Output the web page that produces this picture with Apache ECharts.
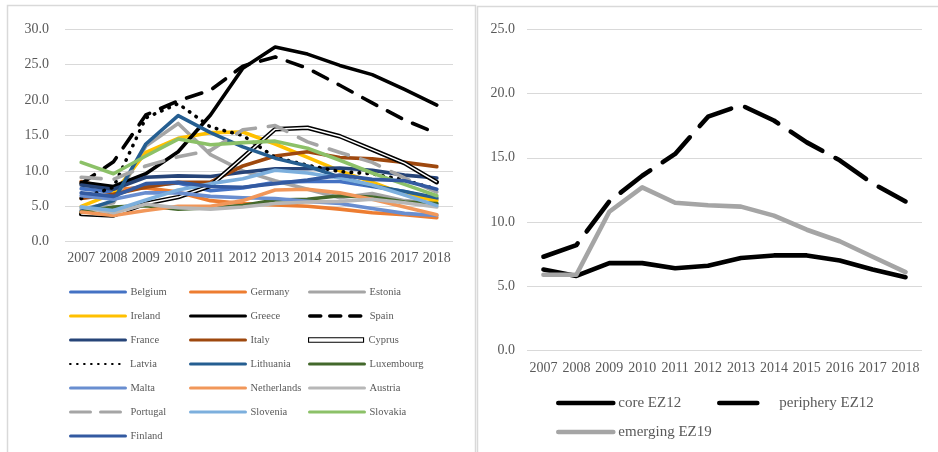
<!DOCTYPE html>
<html><head><meta charset="utf-8">
<script src="https://cdn.jsdelivr.net/npm/echarts@6/dist/echarts.min.js"></script>
<style>html,body{margin:0;padding:0;background:#fff}#c{width:938px;height:452px}</style>
</head><body><div id="c"></div>
<script>
// ---- data ----
const years = ['2007','2008','2009','2010','2011','2012','2013','2014','2015','2016','2017','2018'];
const countries = ['Belgium','Germany','Estonia','Ireland','Greece','Spain','France','Italy','Cyprus','Latvia',
  'Lithuania','Luxembourg','Malta','Netherlands','Austria','Portugal','Slovenia','Slovakia','Finland'];
const belgium     = [7.5, 7.0, 7.9, 8.3, 7.2, 7.6, 8.4, 8.5, 8.5, 7.8, 7.1, 6.0];
const germany     = [8.5, 7.4, 7.6, 7.0, 5.8, 5.4, 5.2, 5.0, 4.6, 4.1, 3.8, 3.4];
const estonia     = [4.6, 5.5, 13.5, 16.7, 12.3, 10.0, 8.6, 7.4, 6.2, 6.8, 5.8, 5.4];
const ireland     = [5.0, 6.8, 12.6, 14.6, 15.4, 15.5, 13.8, 11.9, 10.0, 8.4, 6.7, 5.8];
const greece      = [8.4, 7.8, 9.6, 12.7, 17.9, 24.5, 27.5, 26.5, 24.9, 23.6, 21.5, 19.3];
const spain       = [8.2, 11.3, 17.9, 19.9, 21.4, 24.8, 26.1, 24.5, 22.1, 19.6, 17.2, 15.3];
const france      = [8.0, 7.4, 9.1, 9.3, 9.2, 9.8, 10.3, 10.3, 10.4, 10.1, 9.4, 9.0];
const italy       = [6.1, 6.7, 7.7, 8.4, 8.4, 10.7, 12.1, 12.7, 11.9, 11.7, 11.2, 10.6];
const cyprus      = [3.9, 3.7, 5.4, 6.3, 7.9, 11.9, 15.9, 16.1, 14.9, 13.0, 11.1, 8.4];
const latvia      = [6.1, 7.7, 17.5, 19.5, 16.2, 15.0, 11.9, 10.8, 9.9, 9.6, 8.7, 7.4];
const lithuania   = [4.3, 5.8, 13.8, 17.8, 15.4, 13.4, 11.8, 10.7, 9.1, 7.9, 7.1, 6.2];
const luxembourg  = [4.2, 4.9, 5.1, 4.6, 4.8, 5.1, 5.9, 6.0, 6.5, 6.3, 5.6, 5.4];
const malta       = [6.5, 6.0, 6.9, 6.9, 6.4, 6.2, 6.1, 5.7, 5.4, 4.7, 4.0, 3.7];
const netherlands = [4.2, 3.7, 4.4, 5.0, 5.0, 5.8, 7.3, 7.4, 6.9, 6.0, 4.9, 3.8];
const austria     = [4.9, 4.1, 5.3, 4.8, 4.6, 4.9, 5.4, 5.6, 5.7, 6.0, 5.5, 4.9];
const portugal    = [9.1, 8.8, 10.7, 12.0, 12.9, 15.8, 16.4, 14.1, 12.6, 11.2, 9.0, 7.0];
const slovenia    = [4.9, 4.4, 5.9, 7.3, 8.2, 8.9, 10.1, 9.7, 9.0, 8.0, 6.6, 5.1];
const slovakia    = [11.2, 9.6, 12.1, 14.5, 13.7, 14.0, 14.2, 13.2, 11.5, 9.7, 8.1, 6.5];
const finland     = [6.9, 6.4, 8.2, 8.4, 7.8, 7.7, 8.2, 8.7, 9.4, 8.8, 8.6, 7.4];

const groups = ['core EZ12','periphery EZ12','emerging EZ19'];
const coreEZ12      = [6.3, 5.8, 6.8, 6.8, 6.4, 6.6, 7.2, 7.4, 7.4, 7.0, 6.3, 5.7];
const peripheryEZ12 = [7.3, 8.2, 11.6, 13.6, 15.3, 18.2, 19.1, 17.9, 16.2, 14.8, 13.0, 11.6];
const emergingEZ19  = [5.9, 5.9, 10.8, 12.7, 11.5, 11.3, 11.2, 10.5, 9.4, 8.5, 7.3, 6.1];

const countryValues = [belgium, germany, estonia, ireland, greece, spain, france, italy, cyprus, latvia,
  lithuania, luxembourg, malta, netherlands, austria, portugal, slovenia, slovakia, finland];
const groupValues = [coreEZ12, peripheryEZ12, emergingEZ19];

// ---- styles ----
const FONT = 'Liberation Serif';
const TXT = '#595959';
const GRIDC = '#D9D9D9';
const cStyle = {
  Belgium:{color:'#4472C4'}, Germany:{color:'#ED7D31'}, Estonia:{color:'#A5A5A5'}, Ireland:{color:'#FFC000'},
  Greece:{color:'#000000'}, Spain:{color:'#000000', type:[16,12]}, France:{color:'#264478'}, Italy:{color:'#9E480E'},
  Cyprus:{color:'#000000'}, Latvia:{color:'#000000', type:[0.5,7.5]}, Lithuania:{color:'#255E91'},
  Luxembourg:{color:'#43682B'}, Malta:{color:'#698ED0'}, Netherlands:{color:'#F1975A'}, Austria:{color:'#B7B7B7'},
  Portugal:{color:'#A5A5A5', type:[20,13]}, Slovenia:{color:'#7CAFDD'}, Slovakia:{color:'#8CC168'}, Finland:{color:'#335AA1'}
};
const gStyle = {
  'core EZ12':{color:'#000000'}, 'periphery EZ12':{color:'#000000', type:[37,15]}, 'emerging EZ19':{color:'#A5A5A5'}
};

const series = [];
countries.forEach((name, i) => {
  const st = cStyle[name];
  series.push({
    type:'line', name, xAxisIndex:0, yAxisIndex:0, data: countryValues[i], symbol:'none', smooth:false,
    lineStyle:{color: st.color, width: name==='Cyprus'?4.5:3.6, type: st.type || 'solid', cap:'round', join:'round'},
    itemStyle:{color: st.color}, emphasis:{disabled:true}, animation:false
  });
  if (name === 'Cyprus') {
    series.push({
      type:'line', name:'Cyprus inner', xAxisIndex:0, yAxisIndex:0, data: countryValues[i], symbol:'none',
      lineStyle:{color:'#ffffff', width:1.5}, emphasis:{disabled:true}, animation:false
    });
  }
});
groups.forEach((name, i) => {
  const st = gStyle[name];
  series.push({
    type:'line', name, xAxisIndex:1, yAxisIndex:1, data: groupValues[i], symbol:'none',
    lineStyle:{color: st.color, width:4.6, type: st.type || 'solid', cap:'round', join:'round'},
    itemStyle:{color: st.color}, emphasis:{disabled:true}, animation:false
  });
});

// ---- legends (one component per item for exact placement) ----
const hiddenSymbol = {color:'rgba(0,0,0,0)', borderWidth:0, opacity:0};
const legends = [];
const colLeft = [69, 189, 308];
const rowTop0 = 292, rowStep = 24;
countries.forEach((name, i) => {
  const row = Math.floor(i / 3), col = i % 3;
  const lg = {
    data:[name], left: colLeft[col], top: rowTop0 + row*rowStep - 7, orient:'horizontal',
    itemWidth:55, itemHeight:14, padding:0, selectedMode:false,
    textStyle:{color:TXT, fontFamily:FONT, fontSize:10.5, lineHeight:14},
    itemStyle: hiddenSymbol,
    lineStyle:{width:3}
  };
  if (name === 'Cyprus') {
    lg.data = [{name, icon:'rect', itemStyle:{color:'#ffffff', borderColor:'#000000', borderWidth:1.1, opacity:1}}];
    lg.itemStyle = {color:'#ffffff', borderColor:'#000000', borderWidth:1.1, opacity:1};
    lg.itemHeight = 4.5;
  }
  if (name === 'Spain') lg.lineStyle = {width:3.5, type:[11,9]};
  if (name === 'Latvia') lg.lineStyle = {width:2.2, type:[0.5,6.5], cap:'round'};
  if (name === 'Portugal') lg.lineStyle = {width:3, type:[20,10]};
  legends.push(lg);
});
const gLeg = [[556, 403], [717, 403], [556, 432]];
groups.forEach((name, i) => {
  const lg = {
    data:[name], left: gLeg[i][0], top: gLeg[i][1] - 9, orient:'horizontal',
    itemWidth:55, itemHeight:18, padding:0, selectedMode:false,
    textStyle:{color:TXT, fontFamily:FONT, fontSize:15, lineHeight:18},
    itemStyle: hiddenSymbol,
    lineStyle:{width:4.6}
  };
  if (name === 'periphery EZ12') lg.lineStyle = {width:4.6, type:[38,25]};
  legends.push(lg);
});

const axisLabelX = {color:TXT, fontFamily:FONT, fontSize:14, interval:0};
const option = {
  backgroundColor:'#ffffff',
  animation:false,
  grid:[
    {left:65, right:485, top:29.3, height:212.4, containLabel:false},
    {left:527, right:16, top:29.3, height:321.2, containLabel:false}
  ],
  xAxis:[
    {type:'category', gridIndex:0, data:years, boundaryGap:true, axisLine:{show:false}, axisTick:{show:false},
     axisLabel:Object.assign({margin:10}, axisLabelX)},
    {type:'category', gridIndex:1, data:years, boundaryGap:true, axisLine:{show:false}, axisTick:{show:false},
     axisLabel:Object.assign({margin:11}, axisLabelX)}
  ],
  yAxis:[
    {type:'value', gridIndex:0, min:0, max:30, interval:5, axisLine:{show:false}, axisTick:{show:false},
     axisLabel:{color:TXT, fontFamily:FONT, fontSize:14, margin:16, formatter:v=>v.toFixed(1)},
     splitLine:{lineStyle:{color:GRIDC, width:1}}},
    {type:'value', gridIndex:1, min:0, max:25, interval:5, axisLine:{show:false}, axisTick:{show:false},
     axisLabel:{color:TXT, fontFamily:FONT, fontSize:14, margin:12, formatter:v=>v.toFixed(1)},
     splitLine:{lineStyle:{color:GRIDC, width:1}}}
  ],
  legend: legends,
  graphic:[
    {type:'polyline', shape:{points:[[7.5,470],[7.5,5.5],[475.5,5.5],[475.5,470]]}, style:{fill:null, stroke:GRIDC, lineWidth:1.5}, silent:true},
    {type:'polyline', shape:{points:[[477.5,470],[477.5,6.5],[945,6.5]]}, style:{fill:null, stroke:GRIDC, lineWidth:1.5}, silent:true}
  ],
  series
};
const chart = echarts.init(document.getElementById('c'), null, {renderer:'canvas'});
chart.setOption(option);
</script></body></html>
